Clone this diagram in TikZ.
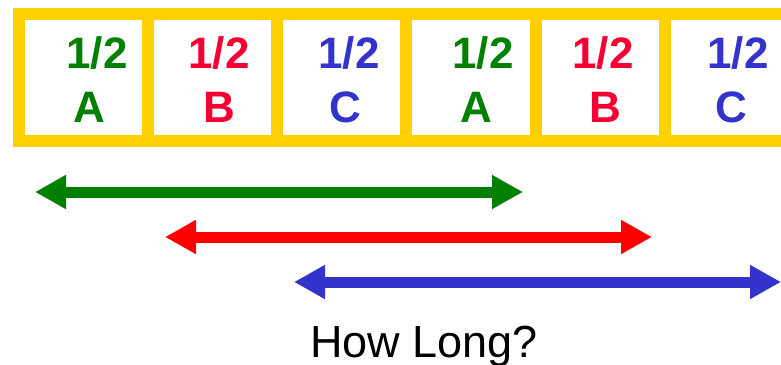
\documentclass[tikz,border=0pt]{standalone}
\usepackage{fontspec}
\setmainfont{Liberation Sans}
\usetikzlibrary{arrows.meta}
\definecolor{frameyellow}{RGB}{255,208,0}
\definecolor{cgreen}{RGB}{0,128,0}
\definecolor{cred}{RGB}{245,0,50}
\definecolor{ared}{RGB}{255,0,0}
\definecolor{cblue}{RGB}{51,51,204}
\tikzset{
  cell/.style={draw=frameyellow, line width=12pt, fill=white,
    minimum width=129.3pt, minimum height=127pt, inner sep=0pt},
  lbl/.style={anchor=base, inner sep=0pt,
    font=\fontsize{44}{44}\selectfont\bfseries},
  span/.style={line width=11pt,
    {Triangle[length=31pt,width=32pt]}-{Triangle[length=31pt,width=32pt]}},
}
\begin{document}
\begin{tikzpicture}[x=1pt,y=-1pt]
\useasboundingbox (0,0) rectangle (781,364);
\clip (0,0) rectangle (781,364);
% strip of six cells
\foreach \i in {1,...,6} {
  \node[cell] (c\i) at ({83.15+129.3*(\i-1)},77) {};
}
% fractions and letters
\node[lbl, text=cgreen] (f1) at (97,68)  {1/2};
\node[lbl, text=cgreen] (l1) at (89.5,122) {A};
\node[lbl, text=cred]   (f2) at (219,68) {1/2};
\node[lbl, text=cred]   (l2) at (219,122) {B};
\node[lbl, text=cblue]  (f3) at (349,68) {1/2};
\node[lbl, text=cblue]  (l3) at (345,122) {C};
\node[lbl, text=cgreen] (f4) at (483,68) {1/2};
\node[lbl, text=cgreen] (l4) at (476,122) {A};
\node[lbl, text=cred]   (f5) at (603,68) {1/2};
\node[lbl, text=cred]   (l5) at (605,122) {B};
\node[lbl, text=cblue]  (f6) at (738,68) {1/2};
\node[lbl, text=cblue]  (l6) at (731,122) {C};
% spans
\coordinate (gA) at (35,192);  \coordinate (gB) at (523,192);
\coordinate (rA) at (165,237); \coordinate (rB) at (652,237);
\coordinate (bA) at (294,282); \coordinate (bB) at (781,282);
\draw[span, draw=cgreen, fill=cgreen] (gA) -- (gB);
\draw[span, draw=ared, fill=ared] (rA) -- (rB);
\draw[span, draw=cblue, fill=cblue] (bA) -- (bB);
% caption
\node[anchor=base, inner sep=0pt, font=\fontsize{45}{45}\selectfont] (q) at (424,357) {How Long?};
\end{tikzpicture}
\end{document}
